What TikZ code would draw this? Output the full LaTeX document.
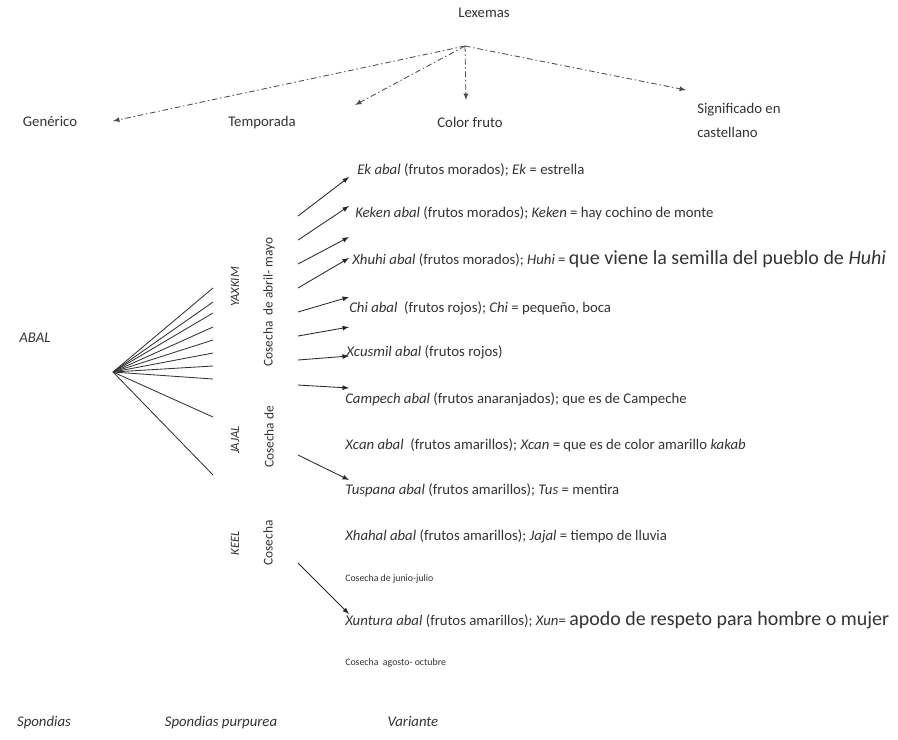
\documentclass[tikz,border=0pt]{standalone}
\usepackage{fontspec}
\setmainfont{Carlito}
\usetikzlibrary{arrows}
\usetikzlibrary{positioning}
\newcommand{\bigpart}[1]{{\fontsize{14.2}{16}\selectfont #1}}

\begin{document}
\begin{tikzpicture}[x=0.025cm,y=-0.025cm,
    every node/.style={font=\fontsize{10.5}{12.6}\selectfont, text=black!80, inner sep=0pt},
    lexline/.style={-latex, black!70, line width=0.6pt, dash pattern=on 4pt off 2pt on 1pt off 2pt},
    fanline/.style={black!80, line width=0.6pt},
    vararrow/.style={-latex, black!85, line width=0.6pt},
    variante/.style={anchor=west},
    harvest/.style={rotate=90, font=\fontsize{9.5}{11}\selectfont},
    season/.style={rotate=90, font=\fontsize{9}{10}\selectfont\itshape},
    smallnote/.style={anchor=west, font=\fontsize{7}{8}\selectfont}
    ]
\useasboundingbox (0,0) rectangle (898,739);
\edef\fx{213}
\edef\ax{298}
\edef\bx{349}

% cabecera
\node (lex) at (484,13) {Lexemas};
\node [anchor=base] (gen) at (50,126) {Genérico};
\node [anchor=base] (temp) at (262,126) {Temporada};
\node [anchor=base] (color) at (470,127) {Color fruto};
\node [anchor=west, align=left, font=\fontsize{10.5}{17}\selectfont] (sig) at (697,120) {Significado en\\castellano};

\coordinate (lexo) at (465,46);
\coordinate (gent) at (113,121);
\coordinate (tempt) at (355,105);
\coordinate (colort) at (466,100);
\coordinate (sigt) at (686,90);
\draw [lexline] (lexo) -- (gent);
\draw [lexline] (lexo) -- (tempt);
\draw [lexline] (lexo) -- (colort);
\draw [lexline] (lexo) -- (sigt);

% genero
\node (abal) at (35,338) {\textit{ABAL}};
\coordinate (fano) at (113,372);
\foreach \fy in {288,302,313,327,340,353,366,379,417,475}
  \draw [fanline] (fano) -- (\fx,\fy);

\node [season] (yax) at (235,287) {YAXKIM};
\node [harvest] (h1) at (269,302) {Cosecha\ \ de abril- mayo};
\node [season] (jaj) at (235,440) {JAJAL};
\node [harvest] (h2) at (269,437) {Cosecha de};
\node [season] (keel) at (235,543) {KEEL};
\node [harvest] (h3) at (268,543) {Cosecha};

% variantes
\node [variante] (v1) at (357,170) {\textit{Ek abal} (frutos morados); \textit{Ek} = estrella};
\node [variante] (v2) at (355,213) {\textit{Keken abal} (frutos morados); \textit{Keken} = hay cochino de monte};
\node [variante] (v3) at (352,259) {\textit{Xhuhi abal} (frutos morados); \textit{Huhi} = \bigpart{que viene la semilla del pueblo de \textit{Huhi}}};
\node [variante] (v4) at (349,308) {\textit{Chi abal}\ \ (frutos rojos); \textit{Chi} = pequeño, boca};
\node [variante] (v5) at (346,352) {\textit{Xcusmil abal} (frutos rojos)};
\node [variante] (v6) at (345,399) {\textit{Campech abal} (frutos anaranjados); que es de Campeche};
\node [variante] (v7) at (345,445) {\textit{Xcan abal}\ \ (frutos amarillos); \textit{Xcan} = que es de color amarillo \textit{kakab}};
\node [variante] (v8) at (345,490) {\textit{Tuspana abal} (frutos amarillos); \textit{Tus} = mentira};
\node [variante] (v9) at (345,536) {\textit{Xhahal abal} (frutos amarillos); \textit{Jajal} = tiempo de lluvia};
\node [smallnote] (c1) at (345,579) {Cosecha de junio-julio};
\node [variante] (v10) at (345,620) {\textit{Xuntura abal} (frutos amarillos); \textit{Xun}= \bigpart{apodo de respeto para hombre o mujer}};
\node [smallnote] (c2) at (345,663) {Cosecha\ \ agosto- octubre};

\foreach \sy/\ty [count=\i] in {216/177,240/206,264/237,288/258,312/297,336/327,360/356,385/388,455/480,563/614}
{
  \coordinate (s\i) at (\ax,\sy);
  \coordinate (t\i) at (\bx,\ty);
  \draw [vararrow] (s\i) -- (t\i);
}

% pie
\node [anchor=base] (spo) at (44,726) {\textit{Spondias}};
\node [anchor=base] (pur) at (221,726) {\textit{Spondias purpurea}};
\node [anchor=base] (var) at (413,726) {\textit{Variante}};
\end{tikzpicture}
\end{document}
